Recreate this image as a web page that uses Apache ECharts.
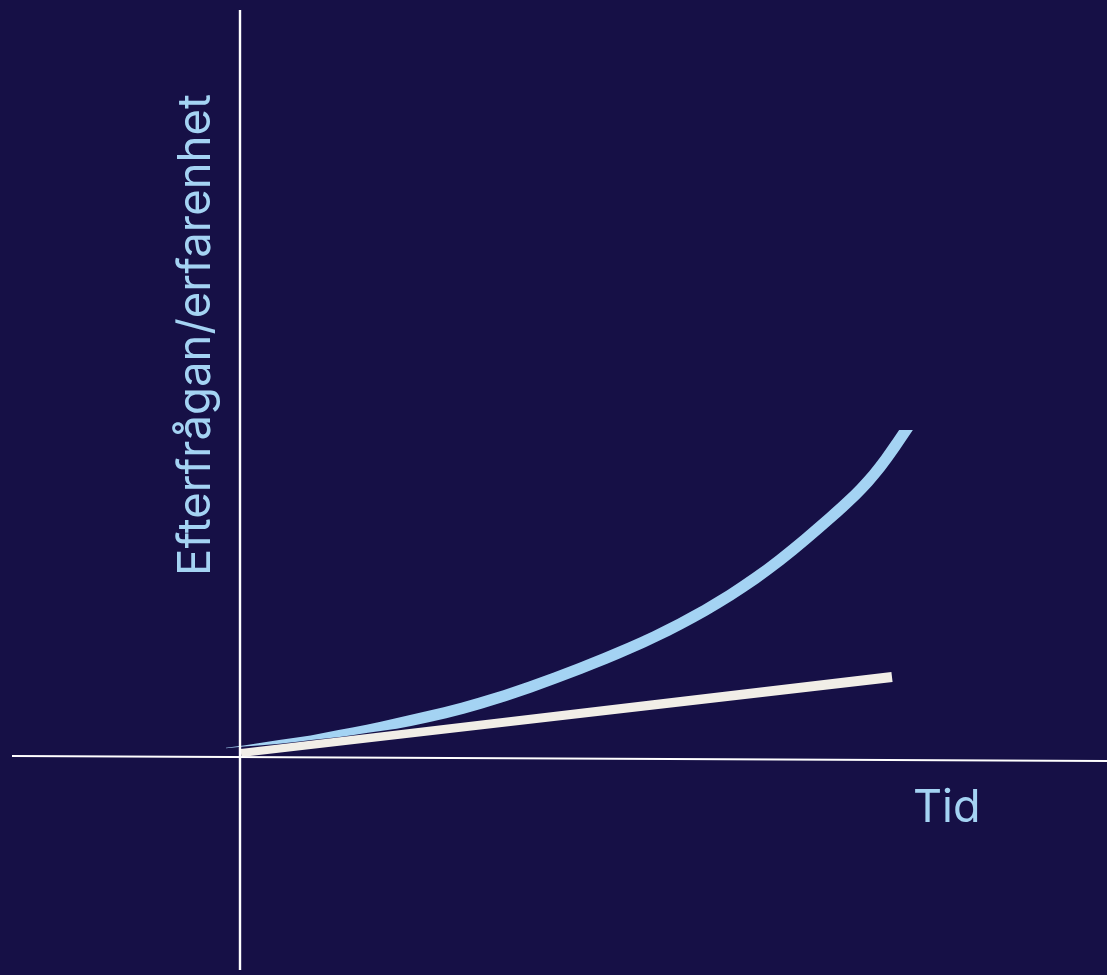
<!DOCTYPE html>
<html>
<head>
<meta charset="utf-8">
<script src="https://cdn.jsdelivr.net/npm/echarts@6/dist/echarts.min.js"></script>
<style>
html,body{margin:0;padding:0;background:#161046;}
#c{width:1107px;height:975px;}
</style>
</head>
<body>
<div id="c"></div>
<script>
// Data (units: time on x, demand/experience on y)
const blueX = [-1.4, 5.7, 11.3, 17, 24, 34, 44, 54, 59, 64, 66.6];
const blueY = [0.9, 1.74, 2.58, 3.64, 5.38, 8.85, 13.3, 19.7, 23.9, 29.0, 32.7];
const beigeX = [0.1, 65.2];
const beigeY = [0.4, 8.0];
const xAxisLineX = [-22.8, 86.7];
const xAxisLineY = [0.1, -0.4];
const yAxisLineX = [0, 0];
const yAxisLineY = [74.7, -21.3];
const yLabel = 'Efterfrågan/erfarenhet';
const xLabel = 'Tid';

const BG = '#161046';
const BLUE = '#a4d3f3';
const BEIGE = '#f1eee7';
const FONT = 'Inter, "Noto Sans", sans-serif';

function pairs(xs, ys){ return xs.map((x,i)=>[x, ys[i]]); }

// natural cubic spline slopes (pixel space, x monotonic)
function splineSlopes(P){
  const n = P.length;
  if (n === 2){ const s=(P[1][1]-P[0][1])/(P[1][0]-P[0][0]); return [s,s]; }
  const h=[], M=new Array(n).fill(0);
  for(let i=0;i<n-1;i++) h.push(P[i+1][0]-P[i][0]);
  const a=[], b=[], c=[], d=[];
  for(let i=1;i<n-1;i++){
    a.push(h[i-1]); b.push(2*(h[i-1]+h[i])); c.push(h[i]);
    d.push(6*((P[i+1][1]-P[i][1])/h[i] - (P[i][1]-P[i-1][1])/h[i-1]));
  }
  const m = b.length;
  for(let i=1;i<m;i++){ const w=a[i]/b[i-1]; b[i]-=w*c[i-1]; d[i]-=w*d[i-1]; }
  const sol = new Array(m);
  sol[m-1]=d[m-1]/b[m-1];
  for(let i=m-2;i>=0;i--) sol[i]=(d[i]-c[i]*sol[i+1])/b[i];
  for(let i=0;i<m;i++) M[i+1]=sol[i];
  const s=[];
  for(let i=0;i<n-1;i++) s.push((P[i+1][1]-P[i][1])/h[i] - h[i]*(2*M[i]+M[i+1])/6);
  s.push((P[n-1][1]-P[n-2][1])/h[n-2] + h[n-2]*(M[n-2]+2*M[n-1])/6);
  return s;
}

function ribbonPath(pts, halfW, horizontalEnd){
  const n = pts.length;
  const m = splineSlopes(pts);
  const top=[], bot=[];
  for(let i=0;i<n;i++){
    const L = Math.hypot(1, m[i]);
    let nx = m[i]/L, ny = -1/L;
    let w = halfW[i];
    if (horizontalEnd && i===n-1){
      const s = Math.abs(nx)||1; w = w/s; nx = nx>0?1:-1; ny = 0;
    }
    top.push([pts[i][0]+nx*w, pts[i][1]+ny*w]);
    bot.push([pts[i][0]-nx*w, pts[i][1]-ny*w]);
  }
  function seg(p, i, j){
    const he = (p[j][0]-p[i][0])/3;
    const c1 = [p[i][0]+he, p[i][1]+he*m[i]];
    const c2 = [p[j][0]-he, p[j][1]-he*m[j]];
    return ' C'+c1[0]+' '+c1[1]+' '+c2[0]+' '+c2[1]+' '+p[j][0]+' '+p[j][1];
  }
  let d = 'M'+top[0][0]+' '+top[0][1];
  for(let i=0;i<n-1;i++) d += seg(top, i, i+1);
  d += ' L'+bot[n-1][0]+' '+bot[n-1][1];
  for(let i=n-1;i>0;i--) d += seg(bot, i, i-1);
  return d + ' Z';
}

function ribbonSeries(xs, ys, color, widthFn, horizontalEnd, z){
  return {
    type: 'custom',
    silent: true,
    z: z,
    data: [[xs[0], ys[0]]],
    renderItem: function(params, api){
      const pts = xs.map((x,i)=>api.coord([x, ys[i]]));
      const cum=[0];
      for(let i=1;i<pts.length;i++) cum.push(cum[i-1]+Math.hypot(pts[i][0]-pts[i-1][0], pts[i][1]-pts[i-1][1]));
      const hw = cum.map((s)=>widthFn(s, cum[cum.length-1]));
      return {
        type: 'path',
        shape: { pathData: ribbonPath(pts, hw, horizontalEnd) },
        style: { fill: color }
      };
    }
  };
}

const chart = echarts.init(document.getElementById('c'), null, {renderer:'canvas'});
chart.setOption({
  backgroundColor: BG,
  animation: false,
  grid: { left: 0, right: 0, top: 0, bottom: 0 },
  xAxis: { type: 'value', min: -24, max: 86.7, show: false },
  yAxis: { type: 'value', min: -21.8, max: 75.7, show: false },
  series: [
    ribbonSeries(blueX, blueY, BLUE, function(s, total){
      return 5.7 * Math.min(1, Math.max(0.05, s/190));
    }, true, 2),
    ribbonSeries(beigeX, beigeY, BEIGE, function(s, total){
      return 4.1 + 1.0 * (s/total);
    }, false, 3),
    {
      type: 'line', silent: true, z: 4, symbol: 'none',
      data: pairs(xAxisLineX, xAxisLineY),
      lineStyle: { color: '#ffffff', width: 2.2 }
    },
    {
      type: 'line', silent: true, z: 4, symbol: 'none',
      data: pairs(yAxisLineX, yAxisLineY),
      lineStyle: { color: '#ffffff', width: 2.4 }
    }
  ],
  graphic: [
    {
      type: 'text', x: 196, y: 335, rotation: Math.PI/2,
      style: { text: yLabel, fill: BLUE, font: '400 45.5px ' + FONT, align: 'center', verticalAlign: 'middle' }
    },
    {
      type: 'text', x: 913, y: 786,
      style: { text: xLabel, fill: BLUE, font: '400 45px ' + FONT, align: 'left', verticalAlign: 'top' }
    }
  ]
});
</script>
</body>
</html>
